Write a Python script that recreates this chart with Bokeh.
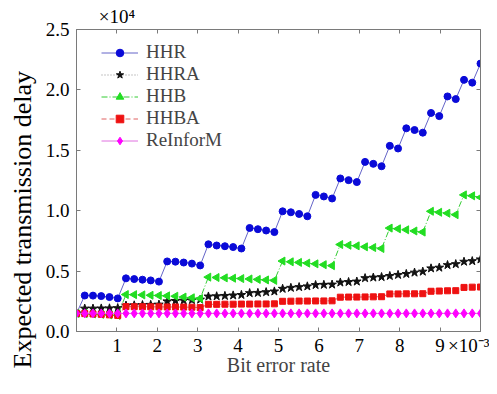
import math
import numpy as np
from bokeh.plotting import figure
from bokeh.models import (LinearAxis, FixedTicker, CustomJSTickFormatter, Range1d,
                          Legend, LegendItem, ColumnDataSource, Title)
from bokeh.embed import file_html
from bokeh.resources import INLINE

# Bit error rate grid (50 sample points from 0 to 0.01)
ber = np.linspace(0.0, 0.01, 50)

hhr = [1500,
       2980, 2970, 2930, 2850, 2740,
       4400, 4340, 4290, 4230, 4130,
       5800, 5780, 5710, 5620, 5470,
       7220, 7120, 7060, 6990, 6870,
       8570, 8470, 8360, 8230,
       9950, 9870, 9730, 9540,
       11310, 11180, 11010,
       12670, 12530, 12370,
       14040, 13880, 13680,
       15370, 15150,
       16820, 16680, 16460,
       18090, 17830,
       19460, 19240,
       20830, 20600,
       22180]

hhra = [1500,
        1900, 1900, 1910, 1920, 1940,
        2150, 2170, 2190, 2210, 2230,
        2500, 2530, 2560, 2600, 2640,
        2900, 2920, 2950, 2990, 3030,
        3180, 3200, 3260, 3320,
        3540, 3620, 3680, 3740,
        3850, 3870, 3890,
        4060, 4100, 4140,
        4420, 4470, 4510,
        4600, 4690, 4770, 4880, 4960, 5230, 5290, 5500, 5580, 5780, 5830, 5970]

hhb = [1500,
       1480, 1450, 1420, 1380, 1330,
       3060, 3050, 3030, 3000, 2980, 2950, 2920, 2850, 2790, 2730,
       4500, 4470, 4440, 4410, 4380, 4350, 4310, 4270, 4230,
       5830, 5770, 5720, 5660, 5600, 5530, 5450,
       7200, 7140, 7090, 7010, 6950, 6870,
       8560, 8500, 8420, 8320, 8230,
       9950, 9870, 9790, 9670,
       11310, 11230, 11100]

hhba = [1500,
        1480, 1450, 1420, 1380, 1330,
        2060, 2050, 2050, 2040, 2040, 2030, 2030, 2020, 2010, 1980,
        2250, 2250, 2260, 2260, 2270, 2270, 2280, 2280, 2290,
        2500, 2510, 2520, 2520, 2530, 2530, 2540,
        2840, 2850, 2850, 2860, 2870, 2880,
        3110, 3110, 3120, 3120, 3130,
        3330, 3350, 3370, 3380,
        3650, 3670, 3680]

reinform = [1500, 1500, 1500, 1500, 1500, 1500, 1500, 1500, 1500, 1500,
            1500, 1500, 1500, 1500, 1500, 1500, 1500, 1500, 1500, 1500,
            1500, 1500, 1500, 1500, 1500, 1500, 1500, 1500, 1500, 1500,
            1500, 1500, 1500, 1500, 1500, 1500, 1500, 1500, 1500, 1500,
            1500, 1500, 1500, 1500, 1500, 1500, 1500, 1500, 1500, 1500]

series_names = ["HHR", "HHRA", "HHB", "HHBA", "ReInforM"]
x_ticks = [0.001, 0.002, 0.003, 0.004, 0.005, 0.006, 0.007, 0.008, 0.009]
x_exp_tick = 0.01             # where the "×10⁻³" multiplier sits
y_ticks = [0, 5000, 10000, 15000, 20000, 25000]

src = ColumnDataSource(data=dict(
    ber=ber, hhr=hhr, hhra=hhra, hhb=hhb, hhba=hhba, reinform=reinform))

FONT = "Liberation Serif"
GRAY = "#7a7a7a"

W, H = 489, 378
BL, BR, BT, BB = 67, 9, 29, 43

p = figure(width=W, height=H, output_backend="svg", toolbar_location=None,
           title=None,
           x_range=Range1d(0, 0.01), y_range=Range1d(0, 25000),
           min_border_left=BL, min_border_right=BR, min_border_top=BT,
           min_border_bottom=BB, x_axis_location=None, y_axis_location=None)
p.grid.visible = False
p.outline_line_color = GRAY
p.background_fill_color = "white"
p.border_fill_color = "white"


def style_axis(ax):
    ax.axis_line_color = GRAY
    ax.major_tick_line_color = GRAY
    ax.minor_tick_line_color = None
    ax.major_tick_in = 4
    ax.major_tick_out = 0
    ax.major_label_text_font = FONT
    ax.major_label_text_color = "black"
    ax.major_label_text_font_size = "19px"


xb = LinearAxis(ticker=FixedTicker(ticks=x_ticks + [x_exp_tick]),
                formatter=CustomJSTickFormatter(
                    code="if (index == 9) { return '\u00d710\u207b\u00b3'; } "
                         "return (tick*1000).toFixed(0);"),
                axis_label="Bit error rate")
style_axis(xb)
xb.major_label_standoff = 3
xb.axis_label_standoff = -5
xb.axis_label_text_font = FONT
xb.axis_label_text_font_size = "20px"
xb.axis_label_text_font_style = "normal"
p.add_layout(xb, "below")

yl = LinearAxis(ticker=FixedTicker(ticks=y_ticks),
                formatter=CustomJSTickFormatter(code="return (tick/10000).toFixed(1);"))
style_axis(yl)
yl.major_label_standoff = 7
p.add_layout(yl, "left")

ylab = Title(text="Expected transmission delay", align="left", offset=-37,
             standoff=11, text_font=FONT, text_font_size="26px",
             text_font_style="normal", text_color="black")
p.add_layout(ylab, "left")

xt = LinearAxis(ticker=FixedTicker(ticks=x_ticks),
                formatter=CustomJSTickFormatter(
                    code="return index == 0 ? '\u00d710\u2074' : '';"))
style_axis(xt)
xt.major_label_standoff = 3
xt.axis_label_standoff = 0
p.add_layout(xt, "above")

yr = LinearAxis(ticker=FixedTicker(ticks=y_ticks),
                formatter=CustomJSTickFormatter(code="return '';"))
style_axis(yr)
yr.major_label_text_font_size = "0px"
yr.major_label_standoff = 0
yr.axis_label_standoff = 0
p.add_layout(yr, "right")

# Series
l1 = p.line("ber", "hhr", source=src, line_color="#6464c8", line_width=1)
m1 = p.scatter("ber", "hhr", source=src, marker="circle", size=7,
               fill_color="#0a0ad8", line_color="#0a0ad8")

l2 = p.line("ber", "hhra", source=src, line_color="#8a8a8a", line_width=1, line_dash="1 2")
m2 = p.scatter("ber", "hhra", source=src, marker="star", size=9,
               fill_color="#111111", line_color="#111111")

l3 = p.line("ber", "hhb", source=src, line_color="#33cc33", line_width=1, line_dash="6 2 1 2")
m3 = p.scatter("ber", "hhb", source=src, marker="triangle", angle=math.pi / 2, size=8,
               fill_color="#22dd22", line_color="#22dd22")

l4 = p.line("ber", "hhba", source=src, line_color="#e06060", line_width=1, line_dash="5 3")
m4 = p.scatter("ber", "hhba", source=src, marker="square", size=6,
               fill_color="#ee1111", line_color="#ee1111")

l5 = p.line("ber", "reinform", source=src, line_color="#e070e0", line_width=1)
m5 = p.scatter("ber", "reinform", source=src, marker="diamond", size=9,
               fill_color="#ff00ff", line_color="#ff00ff")

renderer_pairs = [(l1, m1), (l2, m2), (l3, m3), (l4, m4), (l5, m5)]
legend = Legend(items=[LegendItem(label=n, renderers=list(rp))
                       for n, rp in zip(series_names, renderer_pairs)],
                location=(25, 180))
legend.label_text_font = FONT
legend.label_text_font_size = "19px"
legend.glyph_width = 37
legend.glyph_height = 19
legend.label_height = 19
legend.label_standoff = 8
legend.spacing = 0
legend.padding = 0
legend.margin = 0
legend.border_line_alpha = 0
legend.background_fill_alpha = 0
p.add_layout(legend, "center")

open("out.html", "w").write(file_html(p, INLINE))
